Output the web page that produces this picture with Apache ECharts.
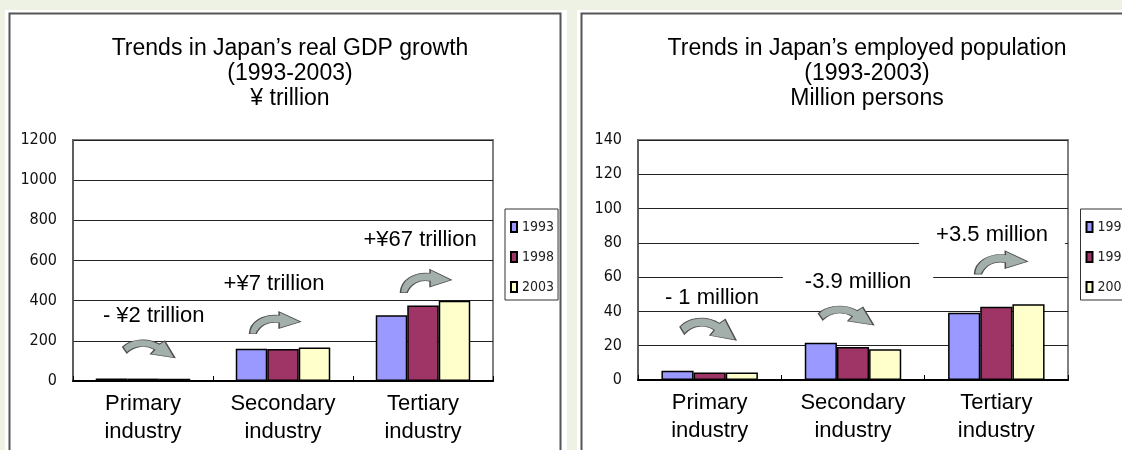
<!DOCTYPE html>
<html>
<head>
<meta charset="utf-8">
<script src="https://cdn.jsdelivr.net/npm/echarts@6/dist/echarts.min.js"></script>
<style>
html,body{margin:0;padding:0;background:#edf2e4;}
#chart{width:1122px;height:450px;}
</style>
</head>
<body>
<div id="chart"></div>
<script>
// ---------- data ----------
const categories = ['Primary\nindustry', 'Secondary\nindustry', 'Tertiary\nindustry'];
const years = ['1993', '1998', '2003'];

const gdp1993 = [13, 160, 327];
const gdp1998 = [12, 159, 376];
const gdp2003 = [11, 167, 399];

const emp1993 = [5.4, 21.8, 39.3];
const emp1998 = [4.4, 19.2, 42.8];
const emp2003 = [4.4, 17.9, 44.2];

const gdpTicks = [0, 200, 400, 600, 800, 1000, 1200];
const empTicks = [0, 20, 40, 60, 80, 100, 120, 140];

const gdpNotes = ['- ¥2 trillion', '+¥7 trillion', '+¥67 trillion'];
const empNotes = ['- 1 million', '-3.9 million', '+3.5 million'];

const gdpTitle = 'Trends in Japan’s real GDP growth\n(1993-2003)\n¥ trillion';
const empTitle = 'Trends in Japan’s employed population\n(1993-2003)\nMillion persons';

// ---------- layout (annotation anchors in data space, sizes, styles) ----------
const gdpNoteAnchors = [[0.076, 325], [0.936, 485], [1.979, 700]];
const empNoteAnchors = [[0.016, 47.8], [1.035, 57.2], [1.97, 84.6]];
const gdpArrowAnchors = [[0.041, 160, 'A', 52, 18], [0.943, 290, 'B', 51, 22], [2.021, 497.5, 'B', 51, 23]];
const empArrowAnchors = [[-0.012, 29.7, 'A', 56, 22], [0.951, 37.6, 'A', 55, 19], [2.033, 68.5, 'B', 53, 23]];

const PATHS = {
  A: 'path://M0,16 C12,3 40,-3 62,11 L71,5 L88,36 L47,29 L54,21 C40,12 20,13 7,27 Z',
  B: 'path://M0,44 C1,20 26,4 58,7 L58,0 L100,20 L58,33 L58,22 C36,18 20,28 13,44 Z'
};
const COLORS = ['#9999ff', '#9e3566', '#ffffcc'];
const SANS = '"Liberation Sans", Arial, sans-serif';
const NARROW = '"Liberation Sans Narrow", "DejaVu Sans Condensed", "Liberation Sans", sans-serif';

const chart = echarts.init(document.getElementById('chart'));

function bars(gi, seriesData, gap) {
  return seriesData.map((d, i) => ({
    type: 'bar', name: years[i], data: d,
    xAxisIndex: gi * 2, yAxisIndex: gi,
    barGap: '0%', barCategoryGap: gap,
    itemStyle: { color: COLORS[i], borderColor: '#000', borderWidth: 1.5, opacity: 1 },
    silent: true, z: 3
  }));
}
function arrows(gi, anchors) {
  return {
    type: 'scatter', xAxisIndex: gi * 2 + 1, yAxisIndex: gi, silent: true, z: 5,
    data: anchors.map(a => ({ value: [a[0], a[1]], symbol: PATHS[a[2]], symbolSize: [a[3], a[4]] })),
    itemStyle: { color: '#a3afaa', borderColor: '#4d4d4d', borderWidth: 1, opacity: 1 }
  };
}
function notes(gi, texts, anchors, bg, pad) {
  return {
    type: 'scatter', xAxisIndex: gi * 2 + 1, yAxisIndex: gi, silent: true, z: 6,
    symbolSize: 0, itemStyle: { color: '#000', opacity: 1 },
    data: texts.map((t, i) => ({ name: t, value: anchors[i], label: { padding: pad[i] } })),
    label: {
      show: true, position: 'inside', formatter: p => p.name,
      fontFamily: SANS, fontSize: 22, color: '#000', opacity: 1,
      backgroundColor: bg
    }
  };
}
function yAxis(gi, ticks) {
  return {
    type: 'value', gridIndex: gi,
    min: ticks[0], max: ticks[ticks.length - 1], interval: ticks[1] - ticks[0],
    axisLine: { show: true, onZero: false, lineStyle: { color: '#555', width: 1.5 } },
    axisTick: { show: false },
    splitLine: { show: true, lineStyle: { color: '#222', width: 1 } },
    axisLabel: { fontFamily: NARROW, fontSize: 16, color: '#111', margin: 16, padding: [10, 0, 0, 0],
                 formatter: v => String(v) }
  };
}
function catAxis(gi) {
  return {
    type: 'category', gridIndex: gi, data: categories,
    axisLine: { show: true, lineStyle: { color: '#000', width: 2 } },
    axisTick: { show: true, inside: true, length: 5, lineStyle: { color: '#000', width: 1 } },
    axisLabel: { fontFamily: SANS, fontSize: 22, lineHeight: 28, color: '#000', margin: 9 }
  };
}
function valXAxis(gi) {
  return { type: 'value', gridIndex: gi, min: -0.5, max: 2.5, show: false };
}
function legend(left) {
  return {
    data: years, orient: 'vertical', left: left, top: 209,
    itemWidth: 6, itemHeight: 10, itemGap: 16,
    padding: [11, 4, 6, 5],
    backgroundColor: '#fff', borderColor: '#333', borderWidth: 1, borderRadius: 0,
    icon: 'rect',
    textStyle: { fontFamily: NARROW, fontSize: 14, color: '#222' },
    selectedMode: false
  };
}
function titleText(text, cx) {
  return { text: text, left: cx, top: 36, textAlign: 'center', padding: 0,
    textStyle: { fontFamily: SANS, fontSize: 23, lineHeight: 25, fontWeight: 'normal', color: '#000' } };
}

const option = {
  backgroundColor: '#edf2e4',
  animation: false,
  graphic: {
    elements: [
      { type: 'rect', z: -10, silent: true, shape: { x: 5, y: 10, width: 562, height: 450 }, style: { fill: '#fff' } },
      { type: 'rect', z: -9, silent: true, shape: { x: 9.5, y: 13.5, width: 551, height: 450 }, style: { fill: 'none', stroke: '#555', lineWidth: 2 } },
      { type: 'rect', z: -10, silent: true, shape: { x: 577, y: 10, width: 560, height: 450 }, style: { fill: '#fff' } },
      { type: 'rect', z: -9, silent: true, shape: { x: 581.5, y: 13.5, width: 560, height: 450 }, style: { fill: 'none', stroke: '#555', lineWidth: 2 } }
    ]
  },
  title: [titleText(gdpTitle, 290), titleText(empTitle, 867)],
  legend: [legend(505), legend(1080.5)],
  grid: [
    { left: 73, top: 140, width: 420, height: 241, show: true, borderColor: '#808080', borderWidth: 2, backgroundColor: 'transparent' },
    { left: 638, top: 140, width: 430, height: 240, show: true, borderColor: '#808080', borderWidth: 2, backgroundColor: 'transparent' }
  ],
  xAxis: [catAxis(0), valXAxis(0), catAxis(1), valXAxis(1)],
  yAxis: [yAxis(0, gdpTicks), yAxis(1, empTicks)],
  series: [
    ...bars(0, [gdp1993, gdp1998, gdp2003], '32.5%'),
    ...bars(1, [emp1993, emp1998, emp2003], '32.7%'),
    arrows(0, gdpArrowAnchors),
    arrows(1, empArrowAnchors),
    notes(0, gdpNotes, gdpNoteAnchors, 'transparent', [[0, 0], [0, 0], [0, 0]]),
    notes(1, empNotes, empNoteAnchors, '#fff', [[0, 0], [4, 22], [4, 17]])
  ]
};
chart.setOption(option);
</script>
</body>
</html>
